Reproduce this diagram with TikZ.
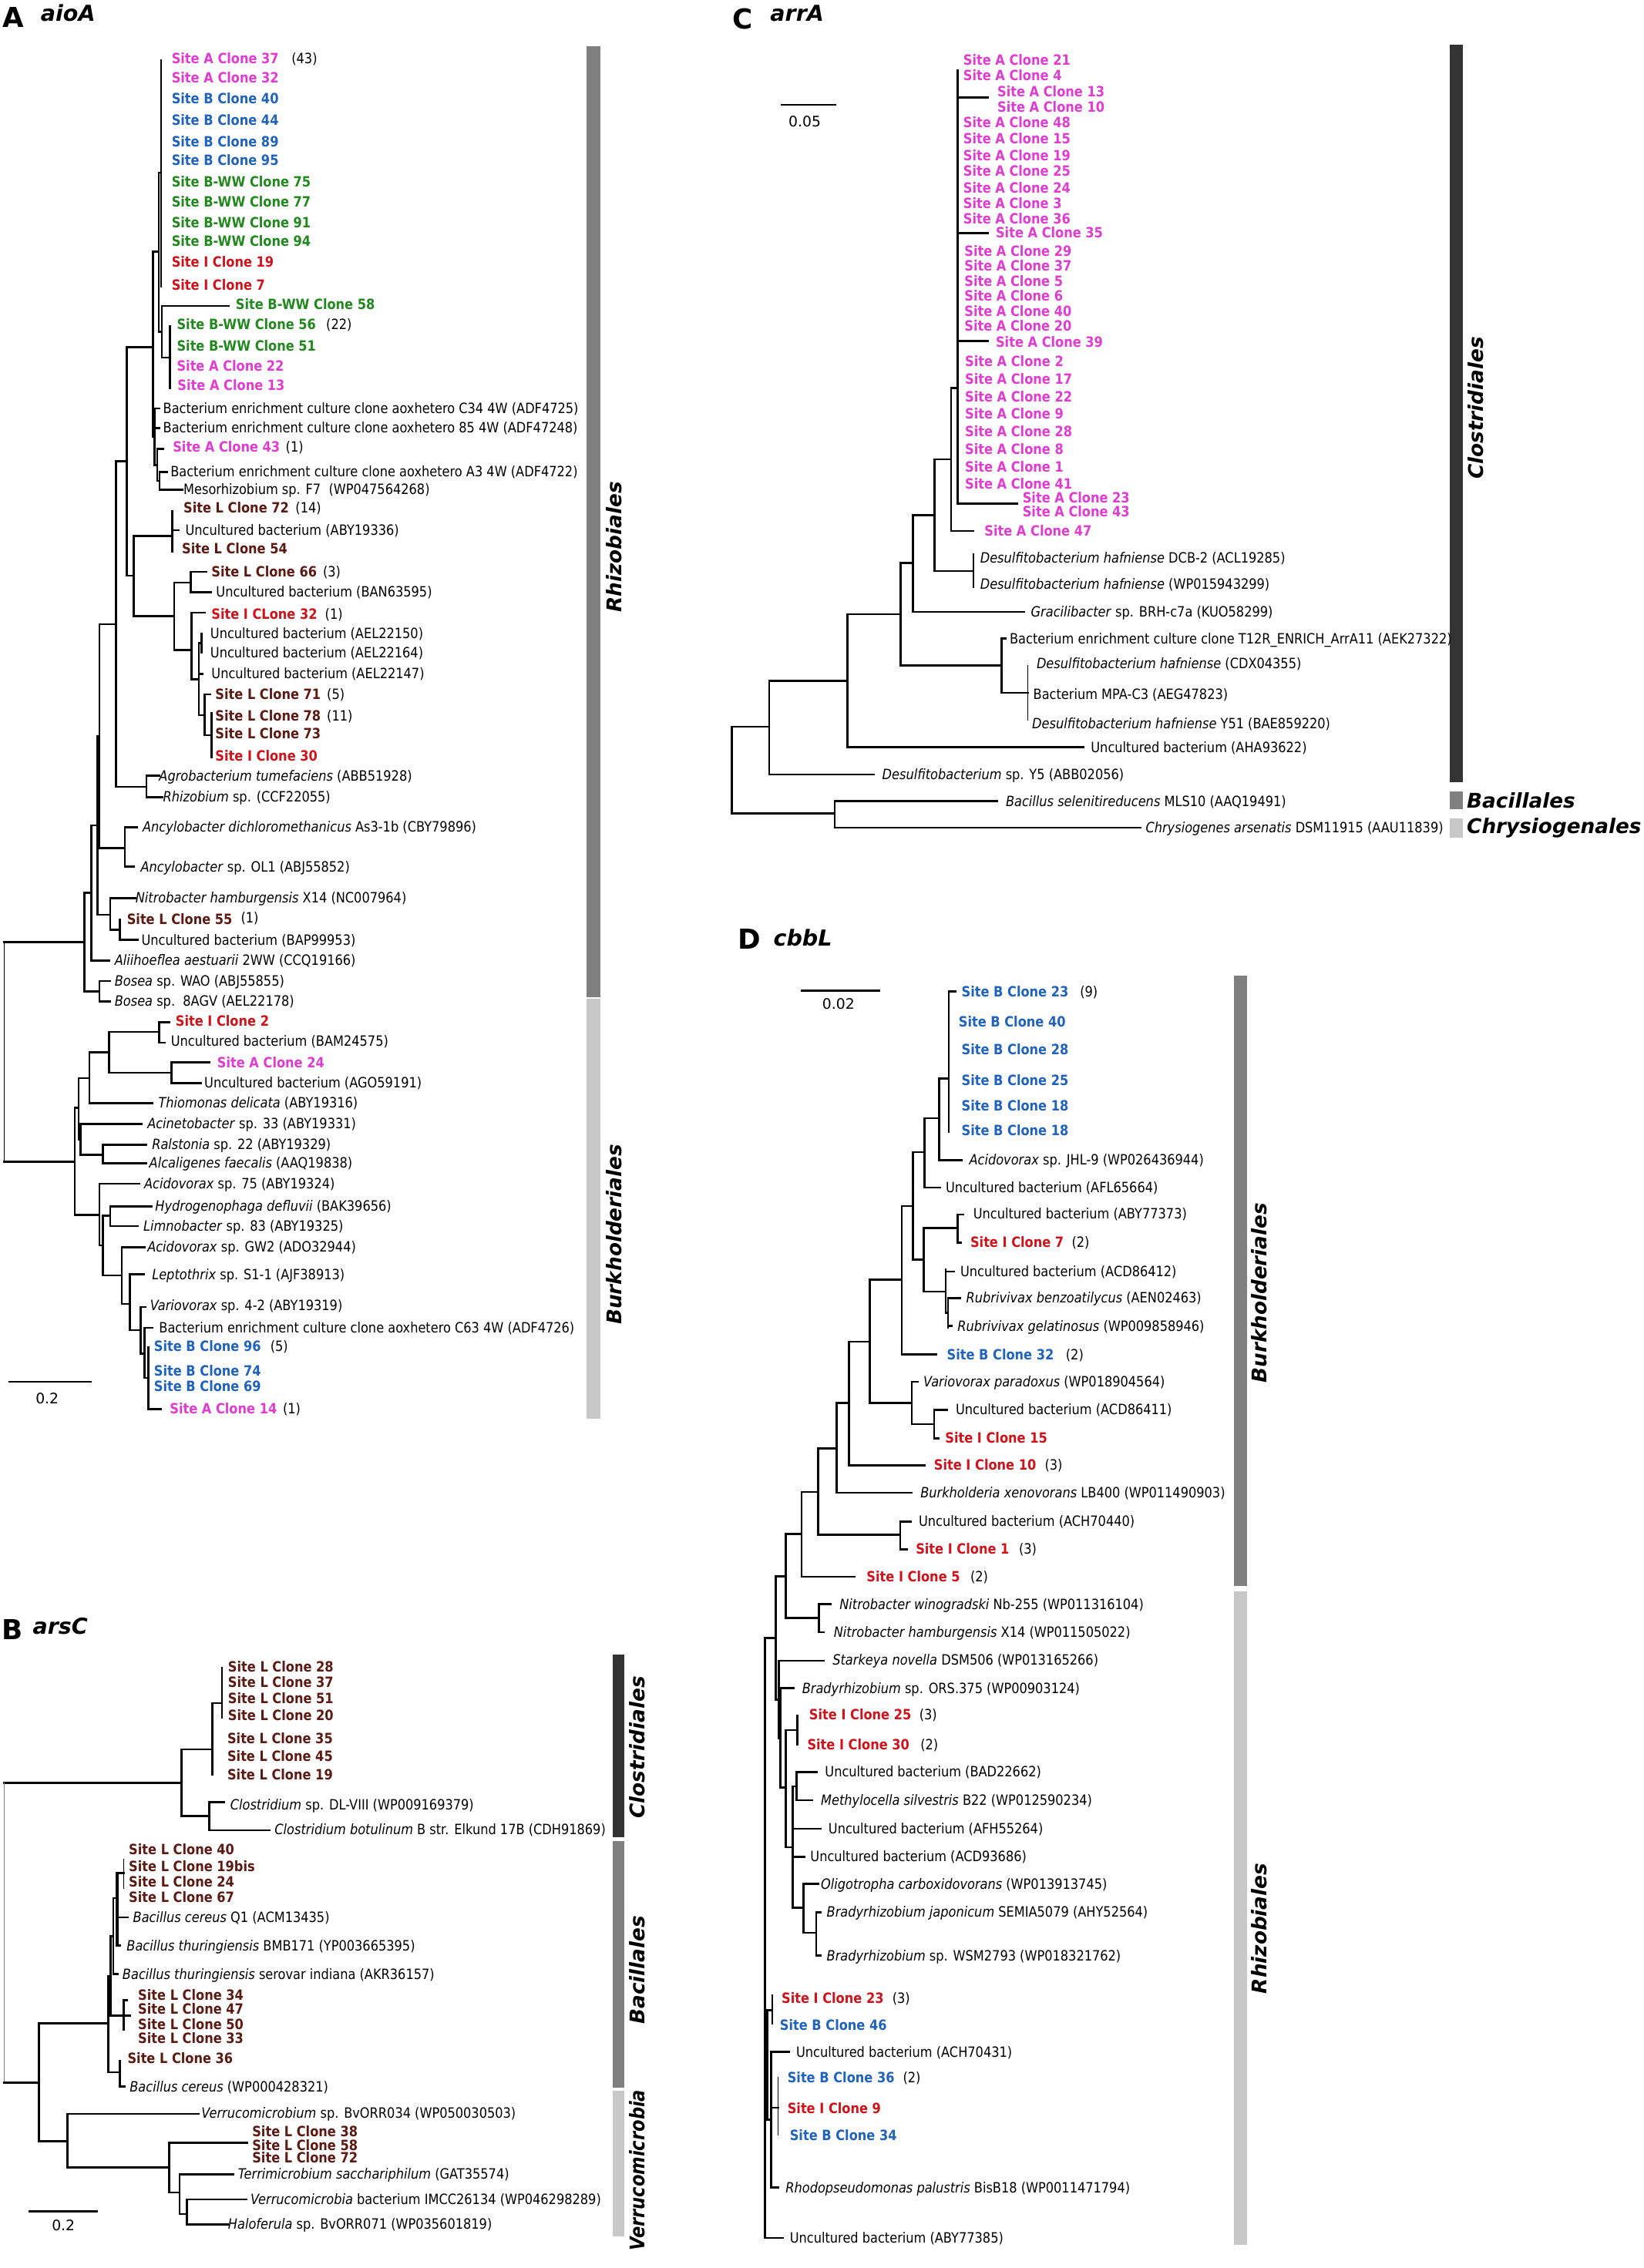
\documentclass[tikz,border=0pt]{standalone}
\usepackage{fontspec}
\newfontfamily\lab{DejaVu Sans}[FakeStretch=0.88]
\newfontfamily\hdr{DejaVu Sans}
\newfontfamily\hdrc{DejaVu Sans}[FakeStretch=0.86]
\newcommand\labfont{\lab\fontsize{9.8}{11}\selectfont}
\definecolor{cA}{HTML}{E03CD2}
\definecolor{cB}{HTML}{1F63BE}
\definecolor{cW}{HTML}{21891E}
\definecolor{cI}{HTML}{D0121B}
\definecolor{cL}{HTML}{5C1A12}
\definecolor{gD}{HTML}{333333}
\definecolor{gM}{HTML}{808080}
\definecolor{gL}{HTML}{C8C8C8}
\newcounter{lbl}
\newcommand\Lf[4]{\stepcounter{lbl}\node[#1] (L\arabic{lbl}) at (#2,#3) {#4};}
\newcommand\brh[3]{\draw[br] (#2,#1) -- (#3,#1);}
\newcommand\brv[3]{\draw[br] (#1,#2) -- (#1,#3);}
\tikzset{
 lf/.style={anchor=base west, inner sep=0pt, outer sep=0pt, yshift=-3.4pt, font=\labfont},
 sA/.style={lf, font=\labfont\bfseries, text=cA},
 sB/.style={lf, font=\labfont\bfseries, text=cB},
 sW/.style={lf, font=\labfont\bfseries, text=cW},
 sI/.style={lf, font=\labfont\bfseries, text=cI},
 sL/.style={lf, font=\labfont\bfseries, text=cL},
 br/.style={line width=1.4pt, line cap=rect},
 thinbr/.style={line width=0.6pt},
 clade/.style={font=\hdr\bfseries\itshape\fontsize{14}{16}\selectfont, rotate=90, inner sep=0pt, anchor=center},
 cladec/.style={font=\hdrc\bfseries\itshape\fontsize{14}{16}\selectfont, rotate=90, inner sep=0pt, anchor=center},
 cladeh/.style={font=\hdr\bfseries\itshape\fontsize{14}{16}\selectfont, inner sep=0pt, anchor=west},
 plet/.style={font=\hdr\bfseries\fontsize{19}{20}\selectfont, inner sep=0pt, anchor=base west},
 gene/.style={font=\hdr\bfseries\itshape\fontsize{15.2}{17}\selectfont, inner sep=0pt, anchor=base west},
 sc/.style={font=\hdr\fontsize{10}{12}\selectfont, inner sep=0pt, anchor=center},
}
\begin{document}
\begin{tikzpicture}[x=1pt,y=-1pt]
\useasboundingbox[fill=white] (0,0) rectangle (1136,1568);

% ================= Panel A =================
\node[plet] (hA) at (1.5,19) {A};
\node[gene] (gA) at (28,14.8) {aioA};
\fill[gM] (405.6,32) rectangle (414.9,689.5);
\fill[gL] (405.6,690.5) rectangle (414.9,980.9);
\node[clade] (cA1) at (424.5,378.2) {Rhizobiales};
\node[clade] (cA2) at (424.5,853.5) {Burkholderiales};
\draw[br] (6.8,955.3) -- (62.5,955.3);
\node[sc] (sA) at (32.6,966.8) {0.2};

\brv{111.4}{41.8}{197.8}
\brh{119.4}{109.8}{111.4}
\brv{109.8}{119.4}{229.2}
\brh{229.2}{109.8}{111.8}
\brv{111.8}{211.5}{247.3}
\brh{211.5}{111.8}{158.1}
\brh{247.3}{111.8}{117.4}
\brv{117.4}{225.4}{268.2}
\brh{174}{105.6}{109.8}
\brv{105.6}{174}{302}
\brh{302}{105.6}{106.8}
\brv{106.8}{282.4}{321.4}
\brh{282.4}{106.8}{110}
\brh{295.8}{106.8}{110}
\brh{321.4}{106.8}{108.7}
\brv{108.7}{310.4}{332.4}
\brh{310.4}{108.7}{112.8}
\brh{332.4}{108.7}{110.2}
\brv{110.2}{326.2}{338.6}
\brh{326.2}{110.2}{115.5}
\brh{338.6}{110.2}{126.3}
\brh{240}{87.5}{105.6}
\brv{87.5}{240}{398}
\brh{398}{87.5}{92.4}
\brv{92.4}{370.7}{425.9}
\brh{370.7}{92.4}{119.2}
\brv{119.2}{353.2}{381.4}
\brh{366.5}{119.2}{123.6}
\brh{425.9}{92.4}{120.4}
\brv{120.4}{402.7}{449.3}
\brh{402.7}{120.4}{131.8}
\brv{131.8}{395.4}{409.3}
\brh{395.4}{131.8}{142.6}
\brh{409.3}{131.8}{146}
\brh{449.3}{120.4}{132.3}
\brv{132.3}{423.6}{469.5}
\brh{423.6}{132.3}{141.3}
\brh{469.5}{132.3}{137.4}
\brv{137.4}{444.6}{494.4}
\brh{444.6}{137.4}{139.2}
\brv{139.2}{438.2}{451.2}
\brh{465.8}{137.4}{140}
\brh{494.4}{137.4}{141.3}
\brv{141.3}{480.1}{508.2}
\brh{480.1}{141.3}{145.4}
\brh{508.2}{141.3}{146.2}
\brv{146.2}{493}{523.4}
\brh{431.6}{68.7}{80.2}
\brv{80.2}{319}{544}
\brh{319}{80.2}{87.5}
\brh{544}{80.2}{101.3}
\brv{101.3}{536.4}{551}
\brh{536.4}{101.3}{110}
\brh{551}{101.3}{112}
\brv{68.7}{431.6}{586.2}
\brh{586.2}{68.7}{86.4}
\brv{86.4}{572}{599.2}
\brh{572}{86.4}{94.6}
\brh{599.2}{86.4}{92.4}
\brh{508.9}{67.4}{68.7}
\brv{67.4}{508.9}{632.4}
\brh{632.4}{67.4}{76.1}
\brv{76.1}{621}{642.7}
\brh{621}{76.1}{93.7}
\brh{642.7}{76.1}{82.9}
\brv{82.9}{635.6}{649.8}
\brh{649.8}{82.9}{95.1}
\brh{570.6}{63.3}{67.4}
\brv{63.3}{570.6}{664}
\brh{664}{63.3}{75.5}
\brh{617.3}{58.4}{63.3}
\brv{58.4}{617.3}{685.3}
\brh{685.3}{58.4}{68.7}
\brv{68.7}{678.2}{692.4}
\brh{678.2}{68.7}{76.1}
\brh{692.4}{68.7}{76.1}
\draw[thinbr] (2.7,651.2) -- (2.7,803.3);
\brh{651.2}{2.7}{58.4}
\brh{803.3}{2.7}{51.6}
\brv{51.6}{766}{840}
\brh{766}{51.6}{54.3}
\brv{54.3}{745.3}{787.8}
\brh{745.3}{54.3}{61.9}
\brh{787.8}{54.3}{55.7}
\brv{55.7}{777}{798.5}
\brh{777}{55.7}{97.8}
\brh{798.5}{55.7}{71.2}
\brv{71.2}{791.4}{804.2}
\brh{791.4}{71.2}{101}
\brh{804.2}{71.2}{101}
\brv{61.9}{727.5}{762.8}
\brh{727.5}{61.9}{75.5}
\brh{762.8}{61.9}{105.4}
\brv{75.5}{713.3}{741.7}
\brh{713.3}{75.5}{110}
\brh{741.7}{75.5}{118.7}
\brv{110}{706.6}{720.8}
\brh{706.6}{110}{116.8}
\brh{720.8}{110}{114}
\brv{118.7}{734.6}{748.8}
\brh{734.6}{118.7}{144.8}
\brh{748.8}{118.7}{139.1}
\brh{840}{51.6}{68.7}
\brv{68.7}{818.4}{861}
\brh{818.4}{68.7}{96.5}
\brh{861}{68.7}{71.2}
\brv{71.2}{840.5}{881.7}
\brh{840.5}{71.2}{76.1}
\brv{76.1}{834}{847.6}
\brh{834}{76.1}{104.6}
\brh{847.6}{76.1}{95.1}
\brh{881.7}{71.2}{84.2}
\brv{84.2}{862.2}{901.4}
\brh{862.2}{84.2}{100}
\brh{901.4}{84.2}{89.7}
\brv{89.7}{881.1}{919.6}
\brh{881.1}{89.7}{99.2}
\brh{919.6}{89.7}{97.3}
\brv{97.3}{903.6}{935.9}
\brh{903.6}{97.3}{100.5}
\brh{935.9}{97.3}{100}
\brv{100}{917.9}{952.7}
\brh{917.9}{100}{105.4}
\brh{952.7}{100}{102.7}
\brv{102.7}{931.5}{974.2}
\brh{974.2}{102.7}{111.4}

\Lf{sA}{118.7}{40.3}{Site A Clone 37}\Lf{lf}{201.6}{40.3}{(43)}
\Lf{sA}{118.7}{53.8}{Site A Clone 32}
\Lf{sB}{118.7}{68.5}{Site B Clone 40}
\Lf{sB}{118.7}{83.1}{Site B Clone 44}
\Lf{sB}{118.7}{98.1}{Site B Clone 89}
\Lf{sB}{118.7}{110.7}{Site B Clone 95}
\Lf{sW}{118.7}{125.9}{Site B-WW Clone 75}
\Lf{sW}{118.7}{139.4}{Site B-WW Clone 77}
\Lf{sW}{118.7}{154.1}{Site B-WW Clone 91}
\Lf{sW}{118.7}{167.0}{Site B-WW Clone 94}
\Lf{sI}{118.7}{181.3}{Site I Clone 19}
\Lf{sI}{118.7}{197.2}{Site I Clone 7}
\Lf{sW}{163}{210.6}{Site B-WW Clone 58}
\Lf{sW}{122.3}{224.4}{Site B-WW Clone 56}\Lf{lf}{225.5}{224.4}{(22)}
\Lf{sW}{122.3}{239.3}{Site B-WW Clone 51}
\Lf{sA}{122.3}{253.0}{Site A Clone 22}
\Lf{sA}{122.8}{266.7}{Site A Clone 13}
\Lf{lf}{112.8}{282.4}{Bacterium enrichment culture clone aoxhetero C34 4W (ADF4725)}
\Lf{lf}{112.8}{295.8}{Bacterium enrichment culture clone aoxhetero 85 4W (ADF47248)}
\Lf{sA}{119.5}{308.9}{Site A Clone 43}\Lf{lf}{197.5}{308.9}{(1)}
\Lf{lf}{117.9}{326.2}{Bacterium enrichment culture clone aoxhetero A3 4W (ADF4722)}
\Lf{lf}{126.9}{338.6}{Mesorhizobium sp. F7\ \ (WP047564268)}
\Lf{sL}{126.9}{351}{Site L Clone 72}\Lf{lf}{204.3}{351}{(14)}
\Lf{lf}{128.2}{366.5}{Uncultured bacterium (ABY19336)}
\Lf{sL}{125.8}{379.3}{Site L Clone 54}
\Lf{sL}{146.2}{395.4}{Site L Clone 66}\Lf{lf}{223.3}{395.4}{(3)}
\Lf{lf}{149.4}{409}{Uncultured bacterium (BAN63595)}
\Lf{sI}{146.2}{424.5}{Site I CLone 32}\Lf{lf}{224.7}{424.5}{(1)}
\Lf{lf}{145.4}{438.2}{Uncultured bacterium (AEL22150)}
\Lf{lf}{145.4}{451.2}{Uncultured bacterium (AEL22164)}
\Lf{lf}{146.2}{465.8}{Uncultured bacterium (AEL22147)}
\Lf{sL}{148.9}{480.1}{Site L Clone 71}\Lf{lf}{226}{480.1}{(5)}
\Lf{sL}{148.9}{494.9}{Site L Clone 78}\Lf{lf}{226}{494.9}{(11)}
\Lf{sL}{148.9}{507.3}{Site L Clone 73}
\Lf{sI}{148.9}{522.9}{Site I Clone 30}
\Lf{lf}{110}{536.4}{\textit{Agrobacterium tumefaciens} (ABB51928)}
\Lf{lf}{112.8}{551}{\textit{Rhizobium} sp. (CCF22055)}
\Lf{lf}{98.6}{572}{\textit{Ancylobacter dichloromethanicus} As3-1b (CBY79896)}
\Lf{lf}{97.3}{599.2}{\textit{Ancylobacter} sp. OL1 (ABJ55852)}
\Lf{lf}{93.7}{621}{\textit{Nitrobacter hamburgensis} X14 (NC007964)}
\Lf{sL}{87.8}{635.9}{Site L Clone 55}\Lf{lf}{166.5}{634.7}{(1)}
\Lf{lf}{97.8}{649.8}{Uncultured bacterium (BAP99953)}
\Lf{lf}{79.3}{664}{\textit{Aliihoeflea aestuarii} 2WW (CCQ19166)}
\Lf{lf}{79.3}{678.2}{\textit{Bosea} sp. WAO (ABJ55855)}
\Lf{lf}{79.3}{692.4}{\textit{Bosea} sp.\ \ 8AGV (AEL22178)}
\Lf{sI}{121.4}{706}{Site I Clone 2}
\Lf{lf}{118.2}{719.9}{Uncultured bacterium (BAM24575)}
\Lf{sA}{150.2}{735}{Site A Clone 24}
\Lf{lf}{141.3}{748.6}{Uncultured bacterium (AGO59191)}
\Lf{lf}{109.5}{762.5}{\textit{Thiomonas delicata} (ABY19316)}
\Lf{lf}{101.9}{777}{\textit{Acinetobacter} sp. 33 (ABY19331)}
\Lf{lf}{105.1}{791.4}{\textit{Ralstonia} sp. 22 (ABY19329)}
\Lf{lf}{103.2}{804.2}{\textit{Alcaligenes faecalis} (AAQ19838)}
\Lf{lf}{99.7}{818.4}{\textit{Acidovorax} sp. 75 (ABY19324)}
\Lf{lf}{107.3}{834}{\textit{Hydrogenophaga defluvii} (BAK39656)}
\Lf{lf}{99.2}{847.6}{\textit{Limnobacter} sp. 83 (ABY19325)}
\Lf{lf}{101.9}{862.2}{\textit{Acidovorax} sp. GW2 (ADO32944)}
\Lf{lf}{105.1}{881.1}{\textit{Leptothrix} sp. S1-1 (AJF38913)}
\Lf{lf}{103.8}{902.7}{\textit{Variovorax} sp. 4-2 (ABY19319)}
\Lf{lf}{110}{917.9}{Bacterium enrichment culture clone aoxhetero C63 4W (ADF4726)}
\Lf{sB}{106.5}{931}{Site B Clone 96}\Lf{lf}{186.9}{931}{(5)}
\Lf{sB}{106.5}{947.7}{Site B Clone 74}
\Lf{sB}{106.5}{958.5}{Site B Clone 69}
\Lf{sA}{117.4}{973.9}{Site A Clone 14}\Lf{lf}{195.6}{973.9}{(1)}

% ================= Panel B =================
\node[plet] (hB) at (1,1133.4) {B};
\node[gene] (gB) at (22.5,1129.9) {arsC};
\fill[gD] (423.5,1144.1) rectangle (431.7,1270.1);
\fill[gM] (423.5,1272.8) rectangle (431.7,1443.3);
\fill[gL] (423.5,1445.4) rectangle (431.7,1545.9);
\node[clade] (cB1) at (440.6,1208) {Clostridiales};
\node[clade] (cB2) at (440.6,1362) {Bacillales};
\node[cladec] (cB3) at (440.6,1500.5) {Verrucomicrobia};
\draw[br] (20.4,1528.8) -- (67.2,1528.8);
\node[sc] (sBs) at (43.8,1538.5) {0.2};

\brv{153.4}{1153}{1187.6}
\brh{1177.5}{146.9}{153.4}
\brv{146.9}{1177.5}{1227}
\brh{1209.4}{125.6}{146.9}
\brv{125.6}{1209.4}{1255.6}
\brh{1255.6}{125.6}{144.6}
\brv{144.6}{1245.8}{1265.3}
\brh{1245.8}{144.6}{154.8}
\brh{1265.3}{144.6}{186.4}
\brh{1232.5}{2.9}{125.6}
\draw[thinbr, gray] (2.9,1232.5) -- (2.9,1439.7);
\brh{1439.7}{2.9}{26.9}
\brv{26.9}{1398.9}{1480.5}
\brh{1398.9}{26.9}{75}
\brh{1480.5}{26.9}{46.7}
\brv{75}{1366}{1432.6}
\brh{1432.6}{75}{82.7}
\brv{82.7}{1424.6}{1442.4}
\brh{1442.4}{82.7}{86}
\brh{1366}{75}{76.5}
\brv{76.5}{1338.5}{1393.5}
\brh{1393.5}{76.5}{90}
\brv{85.6}{1382.9}{1403.3}
\brh{1382.9}{85.6}{88}
\brh{1338.5}{76.5}{78.3}
\brv{78.3}{1312.2}{1364.8}
\brh{1364.8}{78.3}{81.2}
\brh{1312.2}{78.3}{80.8}
\draw[line width=2pt] (80.8,1295) -- (80.8,1345);
\brh{1325.5}{80.8}{88.2}
\brh{1345}{80.8}{83}
\brh{1295}{80.8}{85.6}
\draw[thinbr] (85.6,1285.3) -- (85.6,1305.7);
\brv{46.7}{1461.5}{1498.3}
\brh{1461.5}{46.7}{137.3}
\brh{1498.3}{46.7}{116.8}
\brv{116.8}{1481.4}{1515.7}
\brh{1481.4}{116.8}{170.9}
\brh{1515.7}{116.8}{124.1}
\brv{124.1}{1503.1}{1530.6}
\brh{1503.1}{124.1}{161.5}
\brh{1530.6}{124.1}{129.1}
\brv{129.1}{1520.5}{1537.9}
\brh{1520.5}{129.1}{170.3}
\brh{1537.9}{129.1}{157.7}

\Lf{sL}{157.7}{1152.4}{Site L Clone 28}
\Lf{sL}{157.7}{1163.3}{Site L Clone 37}
\Lf{sL}{157.7}{1174.3}{Site L Clone 51}
\Lf{sL}{157.7}{1186.3}{Site L Clone 20}
\Lf{sL}{157.2}{1201.8}{Site L Clone 35}
\Lf{sL}{157.2}{1214.2}{Site L Clone 45}
\Lf{sL}{157.2}{1227}{Site L Clone 19}
\Lf{lf}{159.2}{1247.6}{\textit{Clostridium} sp. DL-VIII (WP009169379)}
\Lf{lf}{189.9}{1264.8}{\textit{Clostridium botulinum} B str. Elkund 17B (CDH91869)}
\Lf{sL}{89.1}{1279}{Site L Clone 40}
\Lf{sL}{89.1}{1290.6}{Site L Clone 19bis}
\Lf{sL}{89.1}{1301.2}{Site L Clone 24}
\Lf{sL}{89.1}{1311.9}{Site L Clone 67}
\Lf{lf}{92}{1325.5}{\textit{Bacillus cereus} Q1 (ACM13435)}
\Lf{lf}{87.6}{1345.1}{\textit{Bacillus thuringiensis} BMB171 (YP003665395)}
\Lf{lf}{84.7}{1364.8}{\textit{Bacillus thuringiensis} serovar indiana (AKR36157)}
\Lf{sL}{95.5}{1379.7}{Site L Clone 34}
\Lf{sL}{95.5}{1389.1}{Site L Clone 47}
\Lf{sL}{95.5}{1399.8}{Site L Clone 50}
\Lf{sL}{95.5}{1409.5}{Site L Clone 33}
\Lf{sL}{88.2}{1423.3}{Site L Clone 36}
\Lf{lf}{89.7}{1442.7}{\textit{Bacillus cereus} (WP000428321)}
\Lf{lf}{139.3}{1461}{\textit{Verrucomicrobium} sp. BvORR034 (WP050030503)}
\Lf{sL}{174.4}{1473.8}{Site L Clone 38}
\Lf{sL}{174.4}{1483.2}{Site L Clone 58}
\Lf{sL}{174.4}{1492.1}{Site L Clone 72}
\Lf{lf}{164.5}{1503.1}{\textit{Terrimicrobium sacchariphilum} (GAT35574)}
\Lf{lf}{173.2}{1520.5}{\textit{Verrucomicrobia} bacterium IMCC26134 (WP046298289)}
\Lf{lf}{157.7}{1537.9}{\textit{Haloferula} sp. BvORR071 (WP035601819)}

% ================= Panel C =================
\node[plet] (hC) at (506,19.9) {C};
\node[gene] (gC) at (532.3,14.5) {arrA};
\fill[gD] (1002.2,30.8) rectangle (1011.1,540.8);
\fill[gM] (1002.2,547) rectangle (1011.1,559.6);
\fill[gL] (1002.2,565.8) rectangle (1011.1,579);
\node[clade] (cC1) at (1020,282) {Clostridiales};
\node[cladeh] (cC2) at (1013.8,553.2) {Bacillales};
\node[cladeh] (cC3) at (1013.8,572.2) {Chrysiogenales};
\draw[br] (540.6,72.5) -- (577.3,72.5);
\node[sc] (sCs) at (556.3,84.1) {0.05};

\brv{662.1}{48.5}{348.2}
\brh{67.5}{662.1}{683}
\brh{161.1}{662.1}{683}
\brh{235.8}{662.1}{683}
\brh{348.2}{662.1}{703.1}
\brh{268.2}{657.5}{662.1}
\brv{657.5}{268.2}{367}
\brh{367}{657.5}{672.9}
\brh{317.6}{645.9}{657.5}
\brv{645.9}{317.6}{394.7}
\brh{394.7}{645.9}{672.9}
\brv{672.9}{383.4}{405.7}
\brh{356}{631.2}{645.9}
\brv{631.2}{356}{423.1}
\brh{423.1}{631.2}{707.7}
\brh{389.2}{622.7}{631.2}
\brv{622.7}{389.2}{459.9}
\brh{459.9}{622.7}{692.2}
\brv{692.2}{441.5}{478.9}
\brh{441.5}{692.2}{695.3}
\brh{478.9}{692.2}{710.4}
\draw[thinbr] (710.4,459.9) -- (710.4,498.2);
\brh{424.7}{585.9}{622.7}
\brv{585.9}{424.7}{516.6}
\brh{516.6}{585.9}{749.1}
\brh{470.6}{531.8}{585.9}
\brv{531.8}{470.6}{535.4}
\brh{535.4}{531.8}{604.1}
\brv{577}{553.8}{572.2}
\brh{553.8}{577}{689.1}
\brh{572.2}{577}{788.1}
\brv{506}{502.5}{562.5}
\brh{502.5}{506}{531.8}
\brh{562.5}{506}{577}

\Lf{sA}{665.9}{41.5}{Site A Clone 21}
\Lf{sA}{665.9}{52.3}{Site A Clone 4}
\Lf{sA}{689.5}{63.3}{Site A Clone 13}
\Lf{sA}{689.5}{74.2}{Site A Clone 10}
\Lf{sA}{665.9}{85}{Site A Clone 48}
\Lf{sA}{665.9}{95.9}{Site A Clone 15}
\Lf{sA}{665.9}{107.5}{Site A Clone 19}
\Lf{sA}{665.9}{118.3}{Site A Clone 25}
\Lf{sA}{665.9}{129.9}{Site A Clone 24}
\Lf{sA}{665.9}{140.7}{Site A Clone 3}
\Lf{sA}{665.9}{151.6}{Site A Clone 36}
\Lf{sA}{688.4}{161.1}{Site A Clone 35}
\Lf{sA}{666.7}{173.5}{Site A Clone 29}
\Lf{sA}{666.7}{183.9}{Site A Clone 37}
\Lf{sA}{666.7}{194.4}{Site A Clone 5}
\Lf{sA}{666.7}{204.8}{Site A Clone 6}
\Lf{sA}{666.7}{215.1}{Site A Clone 40}
\Lf{sA}{666.7}{225.6}{Site A Clone 20}
\Lf{sA}{688.4}{236.4}{Site A Clone 39}
\Lf{sA}{667.1}{250.1}{Site A Clone 2}
\Lf{sA}{667.1}{262.1}{Site A Clone 17}
\Lf{sA}{667.1}{274.3}{Site A Clone 22}
\Lf{sA}{667.1}{286.2}{Site A Clone 9}
\Lf{sA}{667.1}{298.6}{Site A Clone 28}
\Lf{sA}{667.1}{310.6}{Site A Clone 8}
\Lf{sA}{667.1}{322.8}{Site A Clone 1}
\Lf{sA}{667.1}{334.6}{Site A Clone 41}
\Lf{sA}{706.9}{344.3}{Site A Clone 23}
\Lf{sA}{706.9}{353.8}{Site A Clone 43}
\Lf{sA}{680.6}{367.4}{Site A Clone 47}
\Lf{lf}{677.6}{385.9}{\textit{Desulfitobacterium hafniense} DCB-2 (ACL19285)}
\Lf{lf}{677.6}{403.8}{\textit{Desulfitobacterium hafniense} (WP015943299)}
\Lf{lf}{712.7}{423.1}{\textit{Gracilibacter} sp. BRH-c7a (KUO58299)}
\Lf{lf}{698}{441.5}{Bacterium enrichment culture clone T12R\_ENRICH\_ArrA11 (AEK27322)}
\Lf{lf}{716.6}{458.9}{\textit{Desulfitobacterium hafniense} (CDX04355)}
\Lf{lf}{714.3}{480.2}{Bacterium MPA-C3 (AEG47823)}
\Lf{lf}{713.5}{500.2}{\textit{Desulfitobacterium hafniense} Y51 (BAE859220)}
\Lf{lf}{754.1}{517}{Uncultured bacterium (AHA93622)}
\Lf{lf}{609.9}{535.4}{\textit{Desulfitobacterium} sp. Y5 (ABB02056)}
\Lf{lf}{695.3}{554.4}{\textit{Bacillus selenitireducens} MLS10 (AAQ19491)}
\Lf{lf}{792}{572.2}{\textit{Chrysiogenes arsenatis} DSM11915 (AAU11839)}

% ================= Panel D =================
\node[plet] (hD) at (510.2,656) {D};
\node[gene] (gD) at (534.5,653.9) {cbbL};
\fill[gM] (853.1,674.3) rectangle (862,1096.7);
\fill[gL] (853.1,1100.3) rectangle (862,1551.8);
\node[clade] (cD1) at (870.3,893.9) {Burkholderiales};
\node[clade] (cD2) at (870.3,1333.3) {Rhizobiales};
\draw[br] (554.1,685) -- (608,685);
\node[sc] (sDs) at (579.6,694) {0.02};

\brv{655.8}{685.5}{782.7}
\brh{685.5}{655.8}{660.6}
\brh{745.6}{649.3}{655.8}
\brv{649.3}{745.6}{802}
\brh{802}{649.3}{664.7}
\brh{773.1}{639.2}{649.3}
\brv{639.2}{773.1}{821}
\brh{821}{639.2}{649.7}
\brh{796.5}{631}{639.2}
\brv{661.9}{839.7}{859.1}
\brh{839.7}{661.9}{665.9}
\brh{859.1}{661.9}{664}
\brh{849.1}{638.4}{661.9}
\brv{653.8}{877.4}{907.6}
\brh{879.1}{653.8}{659.4}
\brh{907.6}{653.8}{655.4}
\brv{655.4}{897.4}{917.8}
\brh{897.4}{655.4}{663.9}
\brh{916.8}{655.4}{658}
\brh{892.9}{638.4}{653.8}
\brv{638.4}{849.1}{892.9}
\brh{870.9}{631}{638.4}
\brv{631}{796.5}{870.9}
\brh{833.8}{623.4}{631}
\brv{623.4}{833.8}{936.5}
\brh{936.5}{623.4}{647.3}
\brh{884.8}{601.1}{623.4}
\brv{601.1}{884.8}{969.9}
\brh{969.9}{601.1}{630.3}
\brv{630.3}{955.2}{984.6}
\brh{955.2}{630.3}{634.3}
\brh{984.6}{630.3}{645.7}
\brv{645.7}{974.6}{994.4}
\brh{974.6}{645.7}{654.6}
\brh{994.4}{645.7}{648.5}
\brh{927.6}{586.9}{601.1}
\brv{586.9}{927.6}{1013.1}
\brh{1013.1}{586.9}{639.2}
\brh{969.9}{578.4}{586.9}
\brv{578.4}{969.9}{1032.1}
\brh{1032.1}{578.4}{630.3}
\brh{1001.5}{565.4}{578.4}
\brv{622.2}{1052}{1071.2}
\brh{1052}{622.2}{629.5}
\brh{1071.2}{622.2}{627}
\brh{1061.2}{565.4}{622.2}
\brv{565.4}{1001.5}{1061.2}
\brh{1031.5}{554.1}{565.4}
\brv{554.1}{1031.5}{1090.1}
\brh{1090.1}{554.1}{590.6}
\brh{1060.6}{543.1}{554.1}
\brv{566.2}{1109.1}{1128.5}
\brh{1109.1}{566.2}{574.3}
\brh{1128.5}{566.2}{569.5}
\brh{1118.7}{543.1}{566.2}
\brv{543.1}{1060.6}{1118.7}
\brh{1089.7}{536.3}{543.1}
\brv{536.3}{1089.7}{1174.9}
\brh{1174.9}{536.3}{538.3}
\brv{538.3}{1148.2}{1201.6}
\brh{1148.2}{538.3}{569.5}
\brh{1201.6}{538.3}{539.5}
\brv{539.5}{1167.2}{1235.9}
\brh{1167.2}{539.5}{548.4}
\brh{1235.9}{539.5}{543.1}
\brv{543.1}{1196.1}{1277}
\brh{1196.1}{543.1}{551.2}
\brh{1277}{543.1}{548}
\brv{551.2}{1186.3}{1206.3}
\brv{548}{1234.9}{1318.9}
\brh{1234.9}{548}{550.5}
\brh{1264.2}{548}{567.5}
\brh{1283.7}{548}{556.1}
\brh{1318.9}{548}{555.3}
\brv{550.5}{1225.1}{1244.6}
\brh{1225.1}{550.5}{564.6}
\brh{1244.6}{550.5}{561.4}
\brv{555.3}{1302.5}{1336.3}
\brh{1302.5}{555.3}{565.4}
\brh{1336.3}{555.3}{564.2}
\brv{564.2}{1322}{1352.1}
\brh{1322}{564.2}{567}
\brh{1352.1}{564.2}{567}
\brv{528.8}{1132.5}{1547.3}
\brh{1132.5}{528.8}{536.3}
\brh{1547.3}{528.8}{541.1}
\brh{1427.6}{528.8}{530.5}
\brv{530.5}{1389.6}{1465.5}
\brh{1389.6}{530.5}{533.8}
\brv{533.8}{1379.3}{1398.8}
\brh{1465.5}{530.5}{533}
\brv{533}{1418.7}{1512.4}
\brh{1418.7}{533}{545.2}
\brh{1457.2}{533}{537.9}
\brh{1512.4}{533}{538}
\draw[thinbr] (537.9,1435.7) -- (537.9,1476.6);

\Lf{sB}{664.7}{685.5}{Site B Clone 23}\Lf{lf}{746.6}{685.5}{(9)}
\Lf{sB}{662.7}{706.5}{Site B Clone 40}
\Lf{sB}{664.7}{725.6}{Site B Clone 28}
\Lf{sB}{664.7}{747}{Site B Clone 25}
\Lf{sB}{664.7}{764.5}{Site B Clone 18}
\Lf{sB}{664.7}{781.9}{Site B Clone 18}
\Lf{lf}{670}{802}{\textit{Acidovorax} sp. JHL-9 (WP026436944)}
\Lf{lf}{653.8}{821}{Uncultured bacterium (AFL65664)}
\Lf{lf}{672.8}{839.3}{Uncultured bacterium (ABY77373)}
\Lf{sI}{670.8}{859.1}{Site I Clone 7}\Lf{lf}{740.9}{859.1}{(2)}
\Lf{lf}{663.9}{879.1}{Uncultured bacterium (ACD86412)}
\Lf{lf}{667.9}{897.4}{\textit{Rubrivivax benzoatilycus} (AEN02463)}
\Lf{lf}{661.9}{916.8}{\textit{Rubrivivax gelatinosus} (WP009858946)}
\Lf{sB}{654.6}{936.5}{Site B Clone 32}\Lf{lf}{736.8}{936.5}{(2)}
\Lf{lf}{638.4}{955.6}{\textit{Variovorax paradoxus} (WP018904564)}
\Lf{lf}{660.7}{974.6}{Uncultured bacterium (ACD86411)}
\Lf{sI}{653.4}{994}{Site I Clone 15}
\Lf{sI}{645.7}{1013.1}{Site I Clone 10}\Lf{lf}{722.2}{1013.1}{(3)}
\Lf{lf}{636.3}{1032.1}{\textit{Burkholderia xenovorans} LB400 (WP011490903)}
\Lf{lf}{635.1}{1052}{Uncultured bacterium (ACH70440)}
\Lf{sI}{633.1}{1071.2}{Site I Clone 1}\Lf{lf}{704.4}{1071.2}{(3)}
\Lf{sI}{599.1}{1090.1}{Site I Clone 5}\Lf{lf}{670.8}{1090.1}{(2)}
\Lf{lf}{580.4}{1109.1}{\textit{Nitrobacter winogradski} Nb-255 (WP011316104)}
\Lf{lf}{576.4}{1128.5}{\textit{Nitrobacter hamburgensis} X14 (WP011505022)}
\Lf{lf}{575.6}{1147.8}{\textit{Starkeya novella} DSM506 (WP013165266)}
\Lf{lf}{554.5}{1167.2}{\textit{Bradyrhizobium} sp. ORS.375 (WP00903124)}
\Lf{sI}{559.4}{1185.3}{Site I Clone 25}\Lf{lf}{635.5}{1185.3}{(3)}
\Lf{sI}{558.1}{1206.3}{Site I Clone 30}\Lf{lf}{636.3}{1206.3}{(2)}
\Lf{lf}{570.3}{1225.1}{Uncultured bacterium (BAD22662)}
\Lf{lf}{567.5}{1244.6}{\textit{Methylocella silvestris} B22 (WP012590234)}
\Lf{lf}{572.7}{1264.2}{Uncultured bacterium (AFH55264)}
\Lf{lf}{560.2}{1283.7}{Uncultured bacterium (ACD93686)}
\Lf{lf}{567.5}{1302.5}{\textit{Oligotropha carboxidovorans} (WP013913745)}
\Lf{lf}{571.5}{1322}{\textit{Bradyrhizobium japonicum} SEMIA5079 (AHY52564)}
\Lf{lf}{571.5}{1352.1}{\textit{Bradyrhizobium} sp. WSM2793 (WP018321762)}
\Lf{sI}{540.3}{1381.4}{Site I Clone 23}\Lf{lf}{616.9}{1381.4}{(3)}
\Lf{sB}{539.1}{1400.2}{Site B Clone 46}
\Lf{lf}{550.4}{1418.7}{Uncultured bacterium (ACH70431)}
\Lf{sB}{544.4}{1436.7}{Site B Clone 36}\Lf{lf}{624.2}{1436.7}{(2)}
\Lf{sI}{544.4}{1457.6}{Site I Clone 9}
\Lf{sB}{546}{1476.6}{Site B Clone 34}
\Lf{lf}{543.1}{1512.4}{\textit{Rhodopseudomonas palustris} BisB18 (WP0011471794)}
\Lf{lf}{546}{1547.3}{Uncultured bacterium (ABY77385)}
\end{tikzpicture}
\end{document}
